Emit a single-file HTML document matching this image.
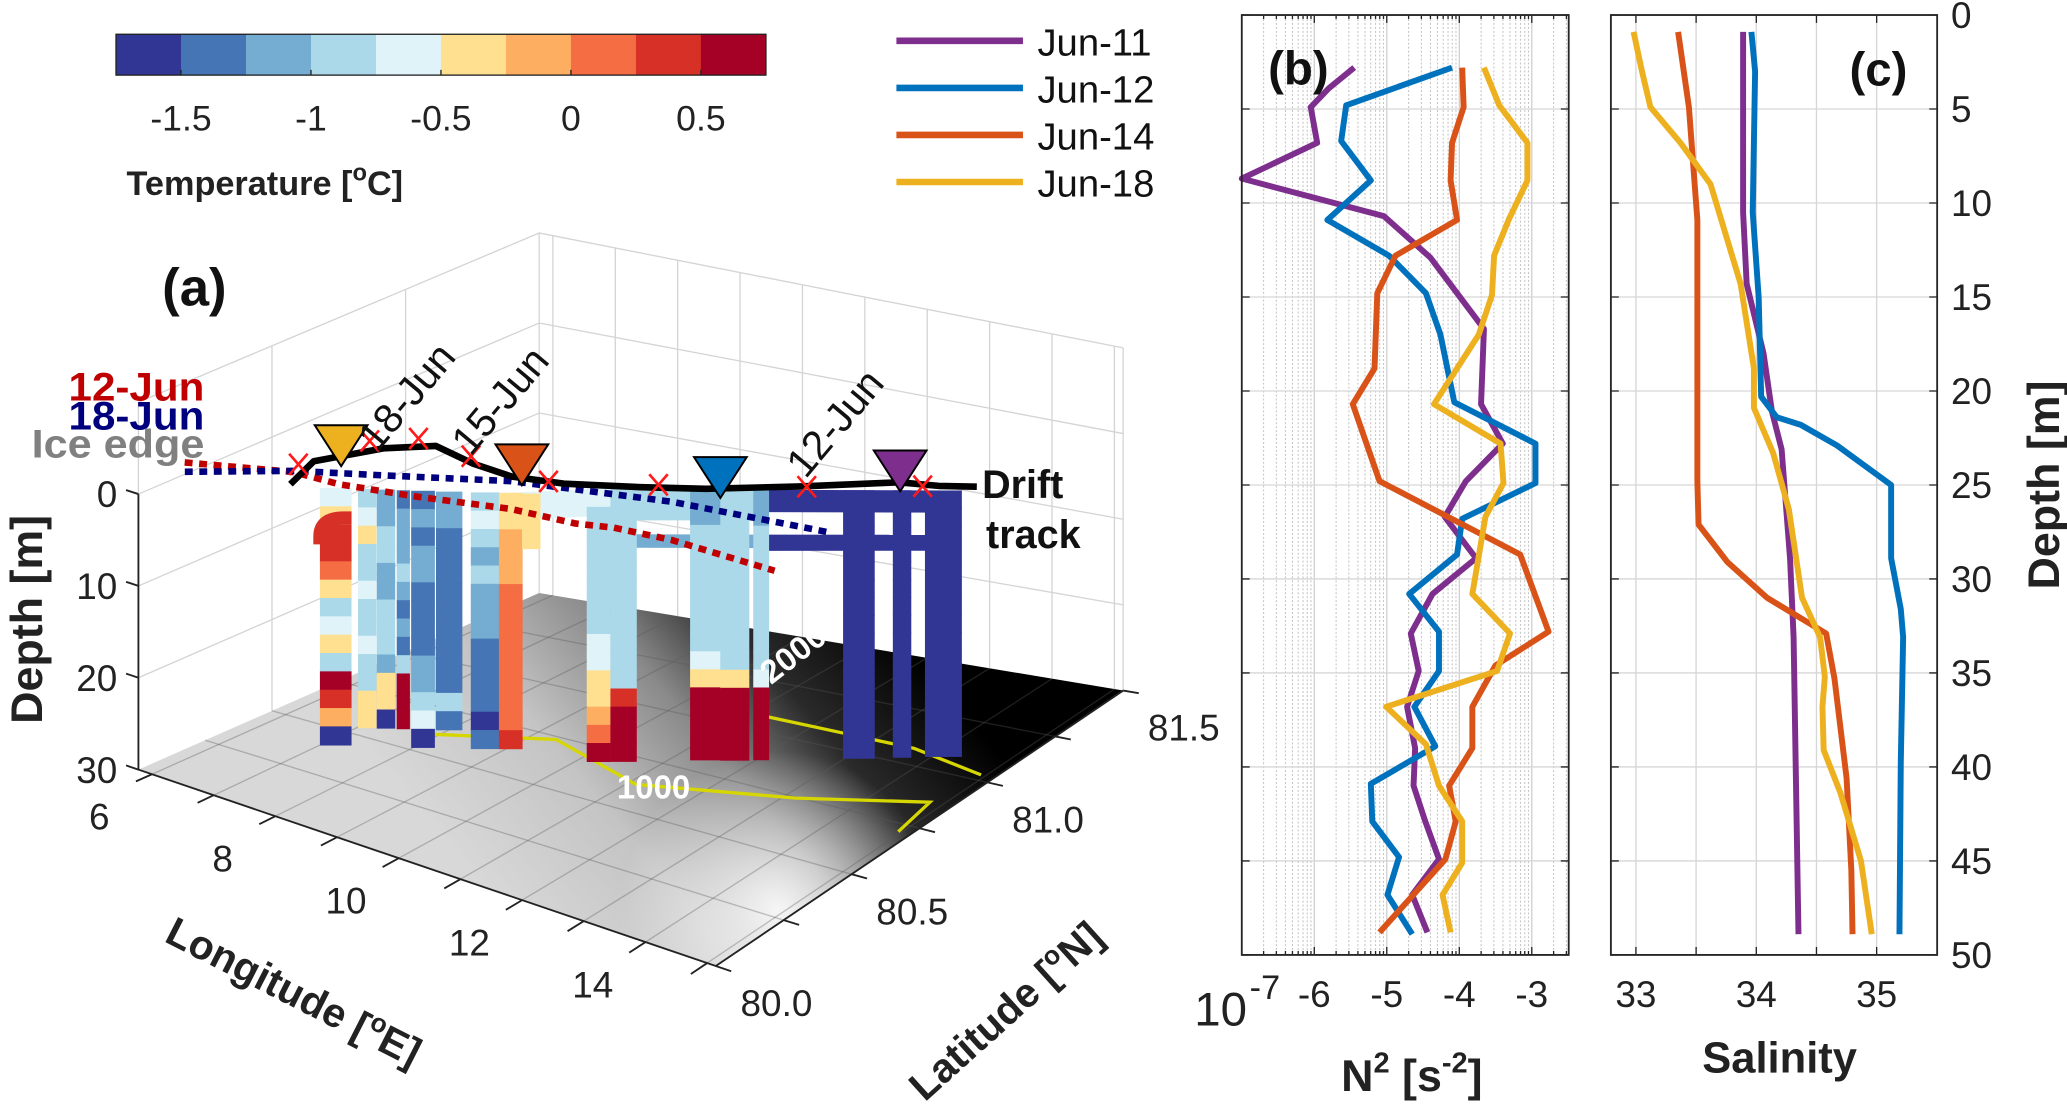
<!DOCTYPE html>
<html><head><meta charset="utf-8"><title>Figure</title>
<style>
html,body{margin:0;padding:0;background:#fff;}
svg{display:block;font-family:"Liberation Sans",Arial,sans-serif;}
</style></head>
<body>
<svg id="fig" xmlns="http://www.w3.org/2000/svg" width="2067" height="1107" viewBox="0 0 1568 840" preserveAspectRatio="none">
<defs>
<linearGradient id="floorGrad" gradientUnits="userSpaceOnUse" x1="380" y1="690" x2="660" y2="455">
<stop offset="0" stop-color="#d8d8d8"/><stop offset="0.3" stop-color="#c4c4c4"/><stop offset="0.55" stop-color="#8a8a8a"/><stop offset="0.75" stop-color="#2a2a2a"/><stop offset="1" stop-color="#000"/>
</linearGradient>
<radialGradient id="floorLight" gradientUnits="userSpaceOnUse" cx="590" cy="690" r="120">
<stop offset="0" stop-color="#fff" stop-opacity="0.9"/><stop offset="1" stop-color="#fff" stop-opacity="0"/>
</radialGradient>
</defs>
<g id="panelA"></g>
<g id="panelB"></g>
<g id="panelC"></g>
</svg>
<script>
// ---------------- DATA ----------------
const cbEdges = [-1.75,-1.5,-1.25,-1,-0.75,-0.5,-0.25,0,0.25,0.5,0.75];
const cbTicks = [-1.5,-1,-0.5,0,0.5];
const cbTickLabels = ["-1.5","-1","-0.5","0","0.5"];
const stLon = [7.532,7.868,8.067,8.256,8.466,8.75,9.138,9.41,9.641,10.25,10.523,11.415,11.75,12.044,13.156,13.65,14.132];
const stLat = [80.333,80.373,80.397,80.418,80.443,80.475,80.52,80.552,80.575,80.685,80.715,80.815,80.845,80.875,80.981,81.027,81.069];
const stTemp = [
 [-0.6,-0.3,0.4,0.35,0.2,-0.4,-0.9,-0.6,-0.4,-0.8,0.6,0.4,-0.2,-1.6],
 [-0.9,-0.7,-0.3,-0.8,-0.9,-0.6,-0.8,-0.9,-0.7,-1.0,-0.9,-0.4,-0.3],
 [-1.2,-1.1,-1.0,-0.9,-1.1,-1.2,-1.0,-0.9,-0.8,-1.1,-0.3,-0.4,-1.6],
 [-1.3,-1.2,-1.1,-1.2,-1.0,-1.2,-1.3,-1.1,-1.3,-1.0,0.6,0.6,0.6],
 [-1.3,-1.2,-1.3,-1.2,-1.1,-1.3,-1.3,-1.4,-1.3,-1.2,-1.1,-1.0,-0.7,-1.6],
 [-1.1,-1.2,-1.3,-1.3,-1.4,-1.3,-1.3,-1.4,-1.4,-1.3,-1.3,-0.9,-1.5],
 [-0.8,-0.7,-1.0,-1.1,-1.0,-1.1,-1.2,-1.1,-1.3,-1.4,-1.5,-1.3,-1.6,-1.4],
 [-0.4,-0.3,-0.2,-0.2,-0.1,0.1,0.1,0.1,0.1,0.1,0.1,0.1,0.1,0.3],
 [-0.4,-0.35,-0.4],
 [-0.7,-0.8,-0.9,-0.8,-0.8,-0.9,-0.8,-0.8,-0.7,-0.6,-0.4,-0.3,-0.2,0.1,0.6],
 [-0.9,-0.9,-0.8,-0.8,-0.9,-0.8,-0.8,-0.8,-0.9,-0.8,-0.8,0.3,0.6,0.6,0.5],
 [-1.1,-1.1,-1.0,-1.0,-0.9,-0.9,-0.9,-0.8,-0.8,-0.6,-0.4,0.6,0.6,0.6,0.6],
 [-1.0,-1.0,-1.0,-0.9,-0.9,-0.8,-0.9,-0.8,-0.8,-0.8,-0.3,0.6,0.6,0.6,0.6],
 [-1.2,-1.1,-0.9,-0.9,-0.8,-0.8,-0.8,-0.8,-0.8,-0.9,-0.7,0.6,0.6,0.6,0.6],
 [-1.6,-1.6,-1.6,-1.6,-1.6,-1.6,-1.6,-1.6,-1.6,-1.6,-1.6,-1.6,-1.6,-1.6,-1.6],
 [-1.6,-1.6,-1.6,-1.6,-1.6,-1.6,-1.6,-1.6,-1.6,-1.6,-1.6,-1.6,-1.6,-1.6,-1.6],
 [-1.6,-1.6,-1.6,-1.6,-1.6,-1.6,-1.6,-1.6,-1.6,-1.6,-1.6,-1.6,-1.6,-1.6,-1.6]
];
const binDepth = 2;
const trFrom = [7,9,11,13,13,9];
const trTo = [9,11,13,16,16,13];
const trTop = [0,0,0,0,5,5];
const trBot = [3,3.5,3.5,2.5,6.8,6.5];
const trTemp = [-0.7,-0.8,-1.0,-1.6,-1.6,-1.2];
const trackLon = [7.007,6.735,7.144,7.627,8.403,9.085,9.778,10.68,11.415,12.42,13.46,13.985,14.447];
const trackLat = [80.285,80.435,80.601,80.685,80.645,80.632,80.665,80.745,80.815,80.935,81.06,81.085,81.12];
const markLon = [6.651,6.84,7.28,8.214,9.568,10.816,12.495,13.807];
const markLat = [80.397,80.62,80.70,80.68,80.656,80.777,80.94,81.067];
const ice12Lon = [5.518,6.777,7.49,8.508,9.746,10.722,11.205,12.065,13.775];
const ice12Lat = [80.234,80.351,80.356,80.405,80.475,80.492,80.522,80.538,80.528];
const ice18Lon = [5.727,6.756,7.732,9.169,10.03,11.3,12.642,13.692];
const ice18Lat = [80.186,80.358,80.463,80.609,80.653,80.713,80.74,80.759];
const castLon = [7.113,9.368,11.761,13.65];
const castLat = [80.45,80.603,80.789,81.02];
const c1000Lon = [7.931,9.348,11.11,13.167,14.804,14.95];
const c1000Lat = [80.605,80.735,80.625,80.745,80.865,80.715];
const c2000Lon = [11.236,12.401,13.639,14.93];
const c2000Lat = [81.075,81.075,81.075,81.025];
const n2Dep11 = [2.8,3.9,4.9,6.8,8.7,10.7,12.9,16.7,20.7,22.8,24.8,26.7,28.9,30.8,32.9,34.9,36.8,39.0,41.0,42.9,44.9,46.8,48.8];
const n2Val11 = [-5.45,-5.8,-6.05,-5.96,-7.0,-5.04,-4.4,-3.66,-3.7,-3.4,-3.91,-4.2,-3.77,-4.37,-4.67,-4.56,-4.72,-4.61,-4.63,-4.47,-4.28,-4.65,-4.44];
const n2Dep12 = [2.8,4.8,6.7,8.8,10.9,12.8,14.8,17.0,20.6,22.8,24.9,26.8,28.7,30.8,32.8,34.9,36.8,38.9,40.9,42.9,44.8,46.8,48.9];
const n2Val12 = [-4.1,-5.56,-5.63,-5.22,-5.82,-4.97,-4.46,-4.26,-4.07,-2.95,-2.95,-3.96,-4.03,-4.69,-4.28,-4.28,-4.62,-4.33,-5.22,-5.2,-4.83,-4.99,-4.65];
const n2Dep14 = [2.8,4.9,6.8,8.8,10.9,12.8,14.8,18.8,20.7,24.8,28.7,32.8,34.6,36.8,39.0,41.0,42.9,44.9,48.8];
const n2Val14 = [-3.96,-3.94,-4.1,-4.12,-4.03,-4.88,-5.13,-5.17,-5.47,-5.1,-3.16,-2.77,-3.5,-3.82,-3.82,-4.14,-4.05,-4.19,-5.1];
const n2Dep18 = [2.8,4.8,6.8,8.8,10.9,12.8,14.9,17.0,20.7,22.8,24.9,26.7,30.8,32.9,34.9,36.8,38.8,41.0,42.9,45.1,46.8,48.8];
const n2Val18 = [-3.66,-3.45,-3.06,-3.06,-3.32,-3.52,-3.55,-3.73,-4.35,-3.43,-3.39,-3.64,-3.82,-3.3,-3.48,-5.01,-4.46,-4.28,-3.96,-3.96,-4.23,-4.12];
const n2Ticks = [-6,-5,-4,-3];
const salDep11 = [0.9,10.5,14.3,18,21.1,23.1,28.9,33.1,48.9];
const salVal11 = [33.89,33.89,33.92,34.06,34.13,34.21,34.28,34.31,34.35];
const salDep12 = [0.9,3,10.5,15,20.3,21.4,21.8,22.9,25,28.9,31.6,33.1,39.8,48.9];
const salVal12 = [33.96,33.99,33.97,34.02,34.04,34.17,34.37,34.67,35.12,35.12,35.2,35.22,35.2,35.19];
const salDep14 = [0.9,4.9,8.3,10.9,24.8,27.1,29.1,31.0,32.9,35.3,40.6,45.5,48.9];
const salVal14 = [33.35,33.44,33.48,33.51,33.51,33.52,33.76,34.09,34.58,34.65,34.75,34.79,34.8];
const salDep18 = [0.9,3,4.9,6.8,9.0,14.3,18.8,20.9,23.3,26.3,31.0,33.1,35.2,36.8,39.1,41.4,45.0,48.9];
const salVal18 = [32.98,33.05,33.12,33.37,33.62,33.87,33.98,33.98,34.14,34.27,34.38,34.53,34.57,34.55,34.56,34.7,34.87,34.96];
const salTicks = [33,34,35];
const depthTicks = [0,5,10,15,20,25,30,35,40,45,50];
const seriesNames = ["Jun-11","Jun-12","Jun-14","Jun-18"];

// ---------------- HELPERS ----------------
const NS = "http://www.w3.org/2000/svg";
const cbColors = ["#313695","#4575b4","#74add1","#abd9e9","#e0f3f8","#fee090","#fdae61","#f46d43","#d73027","#a50026"];
const serColors = ["#7e2f8e","#0072bd","#d95319","#edb120"];
function mk(tag, attrs, parent){
  const e = document.createElementNS(NS, tag);
  for (const k in attrs) e.setAttribute(k, attrs[k]);
  parent.appendChild(e);
  return e;
}
function tcol(t){
  let i = Math.floor((t - cbEdges[0]) / 0.25);
  if (i < 0) i = 0; if (i > 9) i = 9;
  return cbColors[i];
}
const gA = document.getElementById("panelA");
const gB = document.getElementById("panelB");
const gC = document.getElementById("panelC");

// ---------------- PANEL A ----------------
const lonMin = 5.78, lonMax = 15.14, latMin = 80.0, latMax = 81.5;
function proj(lon, lat, d){
  const u = (lon - lonMin) / (lonMax - lonMin), v = (lat - latMin) / (latMax - latMin);
  const w00 = (1-u)*(1-v), w10 = u*(1-v), w11 = u*v, w01 = (1-u)*v;
  const x = w00*105 + w10*543 + w11*852 + w01*409;
  const y = w00*584 + w10*733 + w11*524 + w01*450;
  const s = w00*6.97 + w10*7.2 + w11*6.5 + w01*6.83;
  return [x, y - (30 - d)*s];
}
function ptsStr(arr){ return arr.map(p => p[0].toFixed(1)+","+p[1].toFixed(1)).join(" "); }

for (let i = 0; i < 10; i++){
  const x0 = 88 + (cbEdges[i] - cbEdges[0]) / 2.5 * 493;
  const r = mk("rect", {x:x0, y:26, width:493/10+0.5, height:31, fill:cbColors[i]}, gA);
  
  
}
{
  const f = mk("rect", {x:88, y:26, width:493, height:31, fill:"none", stroke:"#222", "stroke-width":1}, gA);
  
  
}
cbTicks.forEach((t, i) => {
  const x = 88 + (t - cbEdges[0]) / 2.5 * 493;
  const tk = mk("line", {x1:x, y1:57, x2:x, y2:53, stroke:"#222", "stroke-width":1}, gA);
  
  
  const tx = mk("text", {x:x, y:99, "font-size":27, "text-anchor":"middle", fill:"#222"}, gA);
  tx.textContent = cbTickLabels[i];
  
  
});

const floorPts = [proj(lonMin,latMin,30), proj(lonMax,latMin,30), proj(lonMax,latMax,30), proj(lonMin,latMax,30)];
{
  const fl = mk("polygon", {points:ptsStr(floorPts), fill:"url(#floorGrad)"}, gA);
  
  
  const fl2 = mk("polygon", {points:ptsStr(floorPts), fill:"url(#floorLight)"}, gA);
  
  
}
const gridCol = "#d4d4d4";
const wallLats = [80.0,80.5,81.0,81.5];
const wallDeps = [-10,0,10,20];
const wallLons = [6,7,8,9,10,11,12,13,14,15];
wallLats.forEach(lat => {
  const a = proj(lonMin,lat,-10), b = proj(lonMin,lat,30);
  const l = mk("line", {x1:a[0],y1:a[1],x2:b[0],y2:b[1],stroke:gridCol,"stroke-width":1}, gA);
  
  
});
wallDeps.forEach(d => {
  const a = proj(lonMin,latMin,d), b = proj(lonMin,latMax,d), c = proj(lonMax,latMax,d);
  const l = mk("polyline", {points:ptsStr([a,b,c]),fill:"none",stroke:gridCol,"stroke-width":1}, gA);
  
  
});
wallLons.concat([lonMax]).forEach(lon => {
  const a = proj(lon,latMax,-10), b = proj(lon,latMax,30);
  const l = mk("line", {x1:a[0],y1:a[1],x2:b[0],y2:b[1],stroke:gridCol,"stroke-width":1}, gA);
  
  
});
wallLons.forEach(lon => {
  const a = proj(lon,latMin,30), b = proj(lon,latMax,30);
  const l = mk("line", {x1:a[0],y1:a[1],x2:b[0],y2:b[1],stroke:"rgba(90,90,90,0.35)","stroke-width":1}, gA);
  
  
});
[80.25,80.5,80.75,81.0,81.25].forEach(lat => {
  const a = proj(lonMin,lat,30), b = proj(lonMax,lat,30);
  const l = mk("line", {x1:a[0],y1:a[1],x2:b[0],y2:b[1],stroke:"rgba(90,90,90,0.35)","stroke-width":1}, gA);
  
  
});
function contour(lons, lats, name){
  const pts = lons.map((lo,i) => proj(lo, lats[i], 30));
  const p = mk("polyline", {points:ptsStr(pts), fill:"none", stroke:"#d6d600", "stroke-width":2.5}, gA);
  
  
}
contour(c1000Lon, c1000Lat, "contour-1000m");
contour(c2000Lon, c2000Lat, "contour-2000m");

{
  const a0 = proj(lonMin,latMin,0), a1 = proj(lonMin,latMin,30), a2 = proj(lonMax,latMin,30), a3 = proj(lonMax,latMax,30);
  const ax = mk("polyline", {points:ptsStr([a0,a1,a2,a3]), fill:"none", stroke:"#222", "stroke-width":1.4}, gA);
  
  
}
[0,10,20,30].forEach(d => {
  const a = proj(lonMin,latMin,d), b = proj(lonMin-0.2,latMin,d);
  const t = mk("line", {x1:a[0],y1:a[1],x2:b[0],y2:b[1],stroke:"#222","stroke-width":1.4}, gA);
  
  
  const tx = mk("text", {x:a[0]-16, y:a[1]+10, "font-size":28, "text-anchor":"end", fill:"#222"}, gA);
  tx.textContent = String(d);
  
  
});
wallLons.forEach(lon => {
  const a = proj(lon,latMin,30), b = proj(lon,latMin-0.06,30);
  const t = mk("line", {x1:a[0],y1:a[1],x2:b[0],y2:b[1],stroke:"#222","stroke-width":1.4}, gA);
  
  
  if (lon % 2 === 0 && lon <= 14){
    const tx = mk("text", {x:a[0]-40, y:a[1]+42, "font-size":28, "text-anchor":"middle", fill:"#222"}, gA);
    tx.textContent = String(lon);
    
    
  }
});
[80.0,80.25,80.5,80.75,81.0,81.25,81.5].forEach(lat => {
  const a = proj(lonMax,lat,30), b = proj(lonMax+0.25,lat,30);
  const t = mk("line", {x1:a[0],y1:a[1],x2:b[0],y2:b[1],stroke:"#222","stroke-width":1.4}, gA);
  
  
  if (Math.abs(lat*2 - Math.round(lat*2)) < 1e-6){
    const tx = mk("text", {x:a[0]+46, y:a[1]+38, "font-size":28, "text-anchor":"middle", fill:"#222"}, gA);
    tx.textContent = lat.toFixed(1);
    
    
  }
});

trFrom.forEach((f, i) => {
  const t = trTo[i];
  const pts = [proj(stLon[f],stLat[f],trTop[i]), proj(stLon[t],stLat[t],trTop[i]), proj(stLon[t],stLat[t],trBot[i]), proj(stLon[f],stLat[f],trBot[i])];
  const p = mk("polygon", {points:ptsStr(pts), fill:tcol(trTemp[i])}, gA);
  
  
});
const stWidth = [24,14,14,10,18,20,22,18,14,18,20,24,22,12,24,14,28];
stTemp.forEach((prof, i) => {
  const g = mk("g", {}, gA);
  
  
  prof.forEach((t, j) => {
    const a = proj(stLon[i], stLat[i], j*binDepth), b = proj(stLon[i], stLat[i], (j+1)*binDepth);
    const r = mk("rect", {x:a[0]-stWidth[i]/2, y:a[1], width:stWidth[i], height:b[1]-a[1]+0.6, fill:tcol(t)}, g);
    
    
  });
});
// red hook near first station
{
  const c = proj(stLon[0], stLat[0], 5);
  const hk = mk("path", {d:`M${c[0]-12},${c[1]+8} v-6 q0,-14 18,-14 h6`, fill:"none", stroke:"#d73027", "stroke-width":10}, gA);
  
  
}
function dotted(lons, lats, color, name){
  const pts = lons.map((lo,i) => proj(lo, lats[i], 0));
  const p = mk("polyline", {points:ptsStr(pts), fill:"none", stroke:color, "stroke-width":5, "stroke-dasharray":"6 5"}, gA);
  
  
}
dotted(ice12Lon, ice12Lat, "#c00000", "ice-edge-12-jun");
dotted(ice18Lon, ice18Lat, "#00007f", "ice-edge-18-jun");
{
  const pts = trackLon.map((lo,i) => proj(lo, trackLat[i], 0));
  const p = mk("polyline", {points:ptsStr(pts), fill:"none", stroke:"#000", "stroke-width":5, "stroke-linejoin":"round"}, gA);
  
  
}
markLon.forEach((lo, i) => {
  const c = proj(lo, markLat[i], 0);
  const p = mk("path", {d:`M${c[0]-7},${c[1]-8}L${c[0]+7},${c[1]+8}M${c[0]+7},${c[1]-8}L${c[0]-7},${c[1]+8}`, stroke:"#ff1a1a", "stroke-width":2, fill:"none"}, gA);
  
  
});
castLon.forEach((lo, i) => {
  const c = proj(lo, castLat[i], 0);
  const p = mk("polygon", {points:`${c[0]-20},${c[1]-31} ${c[0]+20},${c[1]-31} ${c[0]},${c[1]}`, fill:serColors[[3,2,1,0][i]], stroke:"#000", "stroke-width":1.5}, gA);
  
  
});
</script>
<script>
(function(){
  const g = document.getElementById("panelA");
  function txt(s, attrs){
    const t = mk("text", attrs, g);
    t.textContent = s;
    return t;
  }
  let t;
  t = txt("Temperature [", {x:96, y:148, "font-size":26, "font-weight":"bold", fill:"#222"});
  
  
  const sup = document.createElementNS(NS,"tspan"); sup.setAttribute("dy","-11"); sup.setAttribute("font-size","18"); sup.textContent="o"; t.appendChild(sup);
  const rest = document.createElementNS(NS,"tspan"); rest.setAttribute("dy","11"); rest.textContent="C]"; t.appendChild(rest);

  t = txt("(a)", {x:123, y:232, "font-size":40, "font-weight":"bold", fill:"#111"});
  
  
  t = txt("12-Jun", {x:155, y:304, "font-size":30, "font-weight":"bold", fill:"#c00000", "text-anchor":"end", textLength:103, lengthAdjust:"spacingAndGlyphs"});
  
  
  t = txt("18-Jun", {x:155, y:326, "font-size":30, "font-weight":"bold", fill:"#00007f", "text-anchor":"end", textLength:103, lengthAdjust:"spacingAndGlyphs"});
  
  
  t = txt("Ice edge", {x:155, y:347, "font-size":30, "font-weight":"bold", fill:"#808080", "text-anchor":"end", textLength:131, lengthAdjust:"spacingAndGlyphs"});
  
  
  t = txt("18-Jun", {x:0, y:0, "font-size":31, fill:"#111", transform:"translate(286,344) rotate(-50)"});
  
  
  t = txt("15-Jun", {x:0, y:0, "font-size":31, fill:"#111", transform:"translate(357,347) rotate(-50)"});
  
  
  t = txt("12-Jun", {x:0, y:0, "font-size":31, fill:"#111", transform:"translate(611,364) rotate(-50)"});
  
  
  t = txt("Drift", {x:745, y:378, "font-size":30, "font-weight":"bold", fill:"#111"});
  
  
  t = txt("track", {x:748, y:416, "font-size":30, "font-weight":"bold", fill:"#111"});
  
  
  t = txt("2000", {x:0, y:0, "font-size":25, "font-weight":"bold", fill:"#fff", transform:"translate(585,520) rotate(-38)"});
  
  
  t = txt("1000", {x:468, y:606, "font-size":25, "font-weight":"bold", fill:"#fff"});
  
  
  t = txt("Depth [m]", {x:0, y:0, "font-size":34, "font-weight":"bold", fill:"#222", "text-anchor":"middle", transform:"translate(32,470) rotate(-90)"});
  
  
  t = txt("Longitude [", {x:0, y:0, "font-size":31, "font-weight":"bold", fill:"#222", "text-anchor":"middle", transform:"translate(218,762) rotate(27)"});
  
  
  t.innerHTML = 'Longitude [<tspan dy="-12" font-size="20">o</tspan><tspan dy="12">E]</tspan>';
  t = txt("Latitude", {x:0, y:0, "font-size":31, "font-weight":"bold", fill:"#222", "text-anchor":"middle", transform:"translate(770,775) rotate(-42)"});
  
  
  t.innerHTML = 'Latitude [<tspan dy="-12" font-size="20">o</tspan><tspan dy="12">N]</tspan>';

  seriesNames.forEach((n, i) => {
    const y = 31 + i*35.7;
    const l = mk("line", {x1:680, y1:y, x2:776, y2:y, stroke:serColors[i], "stroke-width":5}, g);
    
    
    const tt = mk("text", {x:787, y:y+11, "font-size":29, fill:"#111"}, g);
    tt.textContent = n;
    
    
  });
})();
</script>
<script>
(function(){
  const top = 11.4, bot = 724.6;
  const dy = d => top + d * (bot - top) / 50;
  const bL = 942, bR = 1190;
  const bx = lv => bL + (lv + 7) * 55;
  const g = gB;
  for (let k = -7; k <= -3; k++){
    for (let m = 1; m <= 9; m++){
      const lv = k + Math.log10(m);
      const x = bx(lv);
      if (x >= bR) continue;
      if (m === 1){
        const l = mk("line", {x1:x, y1:top, x2:x, y2:bot, stroke:"#d0d0d0", "stroke-width":1}, g);
        
        
      } else {
        const l = mk("line", {x1:x, y1:top, x2:x, y2:bot, stroke:"#c4c4c4", "stroke-width":0.8, "stroke-dasharray":"1.5 1.5"}, g);
        
        
      }
      const len = m === 1 ? 6 : 3;
      const t1 = mk("line", {x1:x, y1:bot, x2:x, y2:bot-len, stroke:"#222", "stroke-width":1}, g);
      
      
      const t2 = mk("line", {x1:x, y1:top, x2:x, y2:top+len, stroke:"#222", "stroke-width":1}, g);
      
      
    }
  }
  depthTicks.forEach(d => {
    const y = dy(d);
    const l = mk("line", {x1:bL, y1:y, x2:bR, y2:y, stroke:"#d6d6d6", "stroke-width":1}, g);
    
    
    const a = mk("path", {d:`M${bL},${y}h6M${bR},${y}h-6`, stroke:"#222", "stroke-width":1}, g);
    
    
  });
  const bSeries = [[n2Dep11,n2Val11],[n2Dep12,n2Val12],[n2Dep14,n2Val14],[n2Dep18,n2Val18]];
  bSeries.forEach((s, i) => {
    const pts = s[0].map((d, j) => [bx(s[1][j]), dy(d)]);
    const p = mk("polyline", {points:ptsStr(pts), fill:"none", stroke:serColors[i], "stroke-width":4.5, "stroke-linejoin":"round"}, g);
    
    
  });
  {
    const f = mk("rect", {x:bL, y:top, width:bR-bL, height:bot-top, fill:"none", stroke:"#262626", "stroke-width":1.4}, g);
    
    
  }
  n2Ticks.forEach(v => {
    const t = mk("text", {x:bx(v), y:764, "font-size":28, "text-anchor":"middle", fill:"#222"}, g);
    t.textContent = String(v);
    
    
  });
  {
    const t = mk("text", {x:946, y:778, "font-size":36, "text-anchor":"end", fill:"#222"}, g);
    t.textContent = "10";
    
    
    const t2 = mk("text", {x:948, y:758, "font-size":26, fill:"#222"}, g);
    t2.textContent = "-7";
    
    
    const t3 = mk("text", {x:1071, y:828, "font-size":34, "font-weight":"bold", "text-anchor":"middle", fill:"#222"}, g);
    t3.innerHTML = 'N<tspan dy="-14" font-size="22">2</tspan><tspan dy="14"> [s</tspan><tspan dy="-14" font-size="22">-2</tspan><tspan dy="14">]</tspan>';
    
    
    const t4 = mk("text", {x:962, y:64, "font-size":36, "font-weight":"bold", fill:"#111"}, g);
    t4.textContent = "(b)";
    
    
  }

  const cL = 1222, cR = 1469.5;
  const cx = s => 1241 + (s - 33) * 91.3;
  const h = gC;
  [33,33.5,34,34.5,35].forEach(s => {
    const x = cx(s);
    const l = mk("line", {x1:x, y1:top, x2:x, y2:bot, stroke:"#d6d6d6", "stroke-width":1}, h);
    
    
    const tk = mk("path", {d:`M${x},${bot}v-6M${x},${top}v6`, stroke:"#222", "stroke-width":1}, h);
    
    
  });
  depthTicks.forEach(d => {
    const y = dy(d);
    const l = mk("line", {x1:cL, y1:y, x2:cR, y2:y, stroke:"#d6d6d6", "stroke-width":1}, h);
    
    
    const a = mk("path", {d:`M${cL},${y}h6M${cR},${y}h-6`, stroke:"#222", "stroke-width":1}, h);
    
    
    const t = mk("text", {x:1480, y:y+10, "font-size":28, fill:"#222"}, h);
    t.textContent = String(d);
    
    
  });
  const cSeries = [[salDep11,salVal11],[salDep12,salVal12],[salDep14,salVal14],[salDep18,salVal18]];
  cSeries.forEach((s, i) => {
    const pts = s[0].map((d, j) => [cx(s[1][j]), dy(d)]);
    const p = mk("polyline", {points:ptsStr(pts), fill:"none", stroke:serColors[i], "stroke-width":4.5, "stroke-linejoin":"round"}, h);
    
    
  });
  {
    const f = mk("rect", {x:cL, y:top, width:cR-cL, height:bot-top, fill:"none", stroke:"#262626", "stroke-width":1.4}, h);
    
    
  }
  salTicks.forEach(s => {
    const t = mk("text", {x:cx(s), y:764, "font-size":28, "text-anchor":"middle", fill:"#222"}, h);
    t.textContent = String(s);
    
    
  });
  {
    const t = mk("text", {x:1350, y:814, "font-size":33, "font-weight":"bold", "text-anchor":"middle", fill:"#222"}, h);
    t.textContent = "Salinity";
    
    
    const t2 = mk("text", {x:0, y:0, "font-size":34, "font-weight":"bold", "text-anchor":"middle", fill:"#222", transform:"translate(1562,368) rotate(-90)"}, h);
    t2.textContent = "Depth [m]";
    
    
    const t3 = mk("text", {x:1403, y:65, "font-size":36, "font-weight":"bold", fill:"#111"}, h);
    t3.textContent = "(c)";
    
    
  }
})();
</script>
</body></html>
